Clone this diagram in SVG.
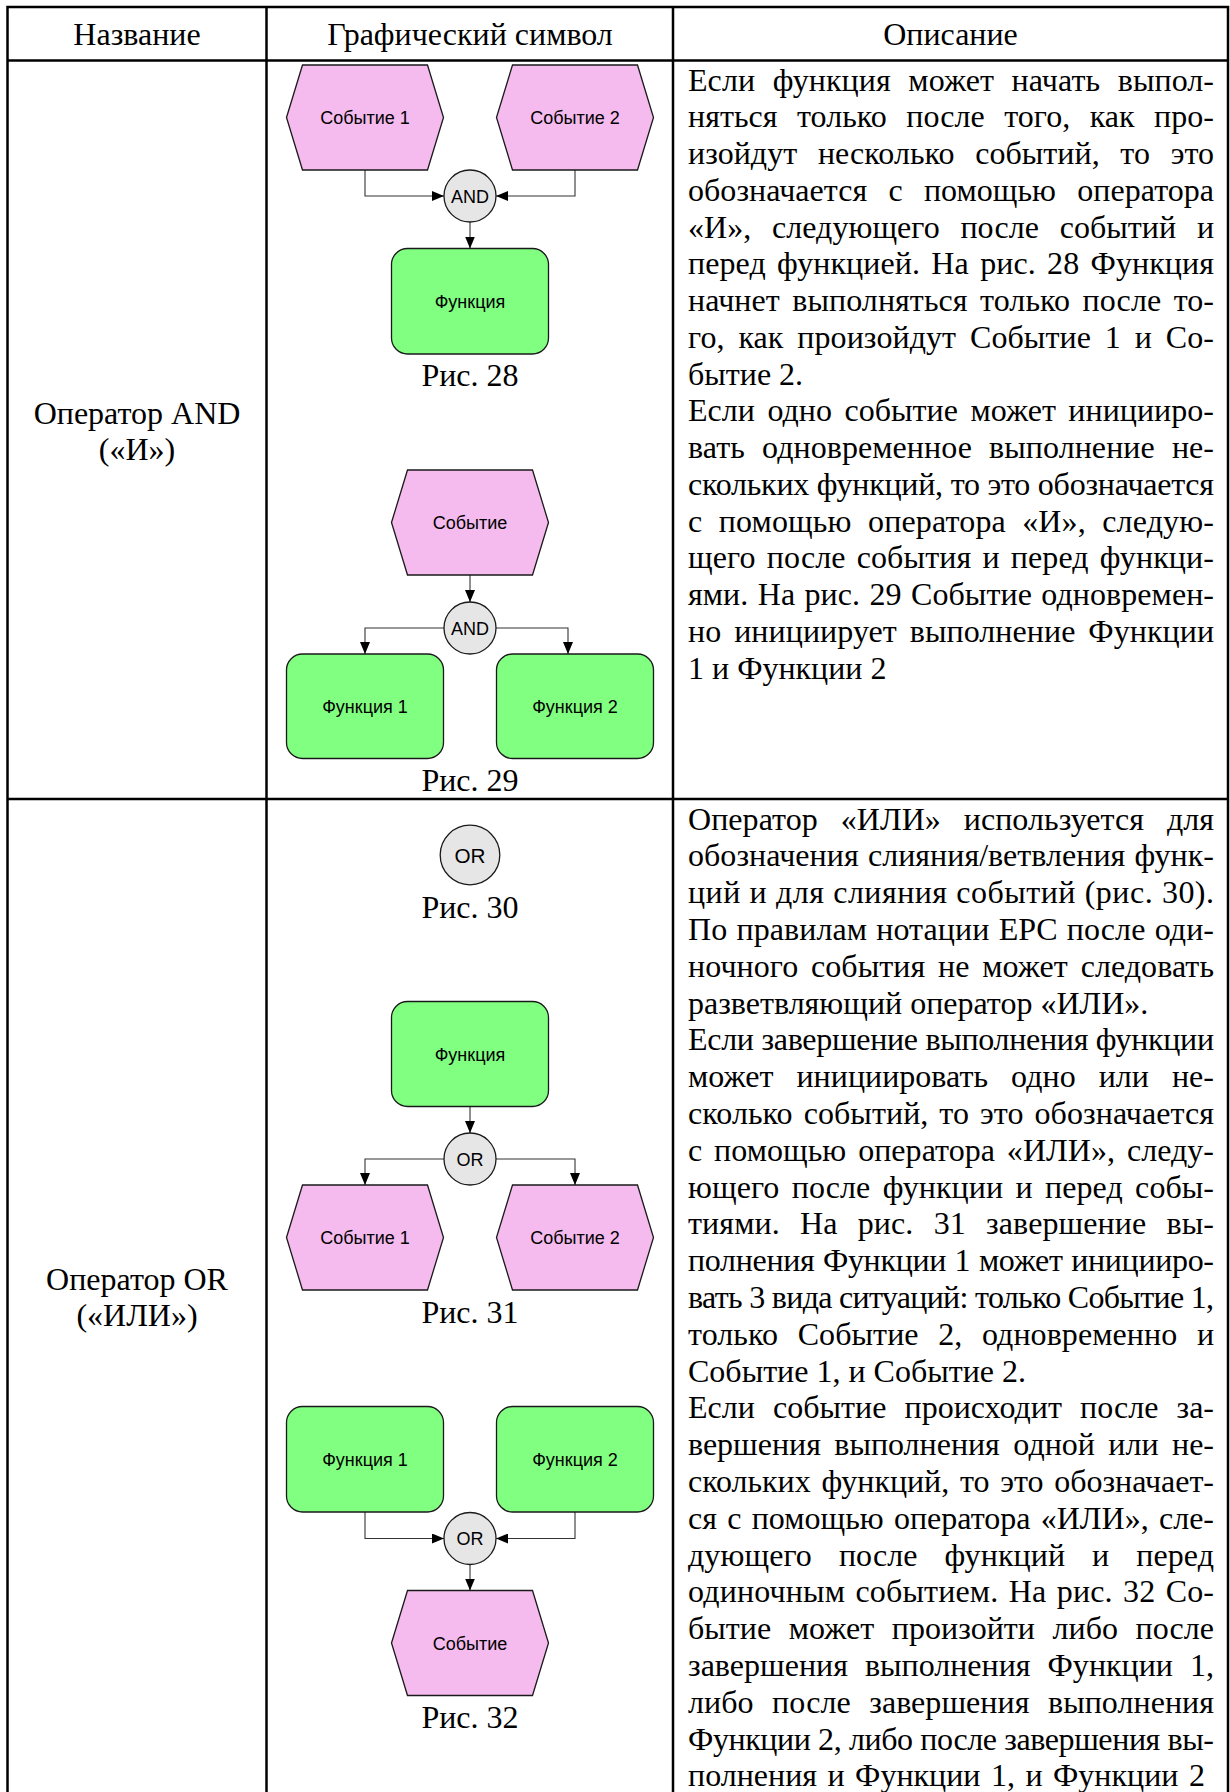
<svg xmlns="http://www.w3.org/2000/svg" width="1230" height="1792" viewBox="0 0 1230 1792">
  <style>
    .grid { stroke: #000; stroke-width: 2.5; fill: none; }
    .hd { font-family: "Liberation Serif", "Times New Roman", serif; font-size: 32px; fill: #000; text-anchor: middle; }
    .d { font-family: "Liberation Serif", "Times New Roman", serif; font-size: 32px; fill: #000; }
    .cap { font-family: "Liberation Serif", "Times New Roman", serif; font-size: 32px; fill: #000; text-anchor: middle; }
    .ev { fill: #F5BAEE; stroke: #1a1a1a; stroke-width: 1.3; }
    .fn { fill: #80FF80; stroke: #1a1a1a; stroke-width: 1.3; }
    .op { fill: #E6E6E6; stroke: #1a1a1a; stroke-width: 1.3; }
    .lbl { font-family: "Liberation Sans", Arial, sans-serif; font-size: 18px; fill: #000; text-anchor: middle; }
    .conn { fill: none; stroke: #333; stroke-width: 1.1; marker-end: url(#arr); }
  </style>
  <defs>
    <marker id="arr" markerWidth="12" markerHeight="10" refX="12" refY="5" orient="auto" markerUnits="userSpaceOnUse">
      <path d="M0,0 L12,5 L0,10 z" fill="#000"/>
    </marker>
  </defs>

  <rect width="1230" height="1792" fill="#fff"/>

  <!-- table grid -->
  <g id="table">
    <path class="grid" d="M7.5,1792 V7 H1228 V1792"/>
    <path class="grid" d="M7.5,60.5 H1228"/>
    <path class="grid" d="M7.5,799 H1228"/>
    <path class="grid" d="M266.5,7 V1792"/>
    <path class="grid" d="M673,7 V1792"/>
  </g>

  <!-- header row -->
  <g id="header">
    <text class="hd" x="137" y="45">Название</text>
    <text class="hd" x="470" y="45">Графический символ</text>
    <text class="hd" x="950.5" y="45">Описание</text>
  </g>

  <!-- name column -->
  <g id="name-and">
    <text class="hd" x="137" y="424">Оператор AND</text>
    <text class="hd" x="137" y="460">(«И»)</text>
  </g>
  <g id="name-or">
    <text class="hd" x="137" y="1290">Оператор OR</text>
    <text class="hd" x="137" y="1326">(«ИЛИ»)</text>
  </g>

  <!-- connectors -->
  <g id="connectors">
    <!-- fig. 28 -->
    <path class="conn" d="M365,170 V196 H444"/>
    <path class="conn" d="M575,170 V196 H496"/>
    <path class="conn" d="M470,222 V248.5"/>
    <!-- fig. 29 -->
    <path class="conn" d="M470,575 V602"/>
    <path class="conn" d="M444,628 H365 V654"/>
    <path class="conn" d="M496,628 H568 V654"/>
    <!-- fig. 31 -->
    <path class="conn" d="M470,1106.5 V1133"/>
    <path class="conn" d="M444,1159 H365 V1185"/>
    <path class="conn" d="M496,1159 H575 V1185"/>
    <!-- fig. 32 -->
    <path class="conn" d="M365,1512 V1538.5 H444"/>
    <path class="conn" d="M575,1512 V1538.5 H496"/>
    <path class="conn" d="M470,1564.5 V1590.5"/>
  </g>

  <!-- fig. 28 -->
  <g id="f28-event1">
    <path class="ev" d="M286.5,117.5 L302.5,65 H427.5 L443.5,117.5 L427.5,170 H302.5 Z"/>
    <text class="lbl" x="365" y="124">Событие 1</text>
  </g>
  <g id="f28-event2">
    <path class="ev" d="M496.5,117.5 L512.5,65 H637.5 L653.5,117.5 L637.5,170 H512.5 Z"/>
    <text class="lbl" x="575" y="124">Событие 2</text>
  </g>
  <g id="f28-and">
    <circle class="op" cx="470" cy="196" r="26"/>
    <text class="lbl" x="470" y="202.5">AND</text>
  </g>
  <g id="f28-function">
    <rect class="fn" x="391.5" y="248.5" width="157" height="105.5" rx="16"/>
    <text class="lbl" x="470" y="307.5">Функция</text>
  </g>
  <text class="cap" x="470" y="386">Рис. 28</text>

  <!-- fig. 29 -->
  <g id="f29-event">
    <path class="ev" d="M391.5,522.5 L407.5,470 H532.5 L548.5,522.5 L532.5,575 H407.5 Z"/>
    <text class="lbl" x="470" y="529">Событие</text>
  </g>
  <g id="f29-and">
    <circle class="op" cx="470" cy="628" r="26"/>
    <text class="lbl" x="470" y="634.5">AND</text>
  </g>
  <g id="f29-function1">
    <rect class="fn" x="286.5" y="654" width="157" height="104.5" rx="16"/>
    <text class="lbl" x="365" y="712.5">Функция 1</text>
  </g>
  <g id="f29-function2">
    <rect class="fn" x="496.5" y="654" width="157" height="104.5" rx="16"/>
    <text class="lbl" x="575" y="712.5">Функция 2</text>
  </g>
  <text class="cap" x="470" y="791">Рис. 29</text>

  <!-- fig. 30 -->
  <g id="f30-or">
    <circle class="op" cx="470" cy="855" r="29.8"/>
    <text class="lbl" x="470" y="862.5" style="font-size:20.7px">OR</text>
  </g>
  <text class="cap" x="470" y="918">Рис. 30</text>

  <!-- fig. 31 -->
  <g id="f31-function">
    <rect class="fn" x="391.5" y="1001.5" width="157" height="105" rx="16"/>
    <text class="lbl" x="470" y="1060.5">Функция</text>
  </g>
  <g id="f31-or">
    <circle class="op" cx="470" cy="1159" r="26"/>
    <text class="lbl" x="470" y="1165.5">OR</text>
  </g>
  <g id="f31-event1">
    <path class="ev" d="M286.5,1237.5 L302.5,1185 H427.5 L443.5,1237.5 L427.5,1290 H302.5 Z"/>
    <text class="lbl" x="365" y="1244">Событие 1</text>
  </g>
  <g id="f31-event2">
    <path class="ev" d="M496.5,1237.5 L512.5,1185 H637.5 L653.5,1237.5 L637.5,1290 H512.5 Z"/>
    <text class="lbl" x="575" y="1244">Событие 2</text>
  </g>
  <text class="cap" x="470" y="1323">Рис. 31</text>

  <!-- fig. 32 -->
  <g id="f32-function1">
    <rect class="fn" x="286.5" y="1406.5" width="157" height="105.5" rx="16"/>
    <text class="lbl" x="365" y="1465.5">Функция 1</text>
  </g>
  <g id="f32-function2">
    <rect class="fn" x="496.5" y="1406.5" width="157" height="105.5" rx="16"/>
    <text class="lbl" x="575" y="1465.5">Функция 2</text>
  </g>
  <g id="f32-or">
    <circle class="op" cx="470" cy="1538.5" r="26"/>
    <text class="lbl" x="470" y="1545">OR</text>
  </g>
  <g id="f32-event">
    <path class="ev" d="M391.5,1643 L407.5,1590.5 H532.5 L548.5,1643 L532.5,1695.5 H407.5 Z"/>
    <text class="lbl" x="470" y="1649.5">Событие</text>
  </g>
  <text class="cap" x="470" y="1728">Рис. 32</text>

  <!-- description, AND row (justified lines: word gaps widened, then fitted to the column) -->
  <g id="desc-and">
    <text class="d" x="688" y="90.5" style="word-spacing:9.5px" textLength="526" lengthAdjust="spacing">Если функция может начать выпол-</text>
    <text class="d" x="688" y="127.25" style="word-spacing:11.4px" textLength="526" lengthAdjust="spacing">няться только после того, как про-</text>
    <text class="d" x="688" y="164" style="word-spacing:12.6px" textLength="526" lengthAdjust="spacing">изойдут несколько событий, то это</text>
    <text class="d" x="688" y="200.75" style="word-spacing:13.2px" textLength="526" lengthAdjust="spacing">обозначается с помощью оператора</text>
    <text class="d" x="688" y="237.5" style="word-spacing:12.6px" textLength="526" lengthAdjust="spacing">«И», следующего после событий и</text>
    <text class="d" x="688" y="274.25" style="word-spacing:3.2px" textLength="526" lengthAdjust="spacing">перед функцией. На рис. 28 Функция</text>
    <text class="d" x="688" y="311" style="word-spacing:4.4px" textLength="526" lengthAdjust="spacing">начнет выполняться только после то-</text>
    <text class="d" x="688" y="347.75" style="word-spacing:5.8px" textLength="526" lengthAdjust="spacing">го, как произойдут Событие 1 и Со-</text>
    <text class="d" x="688" y="384.5">бытие 2.</text>
    <text class="d" x="688" y="421.25" style="word-spacing:4.4px" textLength="526" lengthAdjust="spacing">Если одно событие может иницииро-</text>
    <text class="d" x="688" y="458" style="word-spacing:9px" textLength="526" lengthAdjust="spacing">вать одновременное выполнение не-</text>
    <text class="d" x="688" y="494.75" textLength="526" lengthAdjust="spacing">скольких функций, то это обозначается</text>
    <text class="d" x="688" y="531.5" style="word-spacing:8.1px" textLength="526" lengthAdjust="spacing">с помощью оператора «И», следую-</text>
    <text class="d" x="688" y="568.25" style="word-spacing:2.9px" textLength="526" lengthAdjust="spacing">щего после события и перед функци-</text>
    <text class="d" x="688" y="605" style="word-spacing:1.3px" textLength="526" lengthAdjust="spacing">ями. На рис. 29 Событие одновремен-</text>
    <text class="d" x="688" y="641.75" style="word-spacing:4.8px" textLength="526" lengthAdjust="spacing">но инициирует выполнение Функции</text>
    <text class="d" x="688" y="678.5">1 и Функции 2</text>
  </g>

  <!-- description, OR row -->
  <g id="desc-or">
    <text class="d" x="688" y="829.5" style="word-spacing:14.8px" textLength="526" lengthAdjust="spacing">Оператор «ИЛИ» используется для</text>
    <text class="d" x="688" y="866.3" style="word-spacing:1.2px" textLength="526" lengthAdjust="spacing">обозначения слияния/ветвления функ-</text>
    <text class="d" x="688" y="903.1" style="word-spacing:0.3px" textLength="526" lengthAdjust="spacing">ций и для слияния событий (рис. 30).</text>
    <text class="d" x="688" y="939.9" style="word-spacing:1.1px" textLength="526" lengthAdjust="spacing">По правилам нотации EPC после оди-</text>
    <text class="d" x="688" y="976.7" style="word-spacing:4.7px" textLength="526" lengthAdjust="spacing">ночного события не может следовать</text>
    <text class="d" x="688" y="1013.5">разветвляющий оператор «ИЛИ».</text>
    <text class="d" x="688" y="1050.3" textLength="526" lengthAdjust="spacing">Если завершение выполнения функции</text>
    <text class="d" x="688" y="1087.1" style="word-spacing:15px" textLength="526" lengthAdjust="spacing">может инициировать одно или не-</text>
    <text class="d" x="688" y="1123.9" style="word-spacing:2.9px" textLength="526" lengthAdjust="spacing">сколько событий, то это обозначается</text>
    <text class="d" x="688" y="1160.7" style="word-spacing:3.8px" textLength="526" lengthAdjust="spacing">с помощью оператора «ИЛИ», следу-</text>
    <text class="d" x="688" y="1197.5" style="word-spacing:4.3px" textLength="526" lengthAdjust="spacing">ющего после функции и перед собы-</text>
    <text class="d" x="688" y="1234.3" style="word-spacing:12.1px" textLength="526" lengthAdjust="spacing">тиями. На рис. 31 завершение вы-</text>
    <text class="d" x="688" y="1271.1" style="word-spacing:0.9px" textLength="526" lengthAdjust="spacing">полнения Функции 1 может иницииро-</text>
    <text class="d" x="688" y="1307.9" textLength="526" lengthAdjust="spacing">вать 3 вида ситуаций: только Событие 1,</text>
    <text class="d" x="688" y="1344.7" style="word-spacing:11.5px" textLength="526" lengthAdjust="spacing">только Событие 2, одновременно и</text>
    <text class="d" x="688" y="1381.5">Событие 1, и Событие 2.</text>
    <text class="d" x="688" y="1418.3" style="word-spacing:10.1px" textLength="526" lengthAdjust="spacing">Если событие происходит после за-</text>
    <text class="d" x="688" y="1455.1" style="word-spacing:5.5px" textLength="526" lengthAdjust="spacing">вершения выполнения одной или не-</text>
    <text class="d" x="688" y="1491.9" style="word-spacing:2.9px" textLength="526" lengthAdjust="spacing">скольких функций, то это обозначает-</text>
    <text class="d" x="688" y="1528.7" style="word-spacing:2.3px" textLength="526" lengthAdjust="spacing">ся с помощью оператора «ИЛИ», сле-</text>
    <text class="d" x="688" y="1565.5" style="word-spacing:18.9px" textLength="526" lengthAdjust="spacing">дующего после функций и перед</text>
    <text class="d" x="688" y="1602.3" style="word-spacing:2.2px" textLength="526" lengthAdjust="spacing">одиночным событием. На рис. 32 Со-</text>
    <text class="d" x="688" y="1639.1" style="word-spacing:9.5px" textLength="526" lengthAdjust="spacing">бытие может произойти либо после</text>
    <text class="d" x="688" y="1675.9" style="word-spacing:9px" textLength="526" lengthAdjust="spacing">завершения выполнения Функции 1,</text>
    <text class="d" x="688" y="1712.7" style="word-spacing:10.5px" textLength="526" lengthAdjust="spacing">либо после завершения выполнения</text>
    <text class="d" x="688" y="1749.5" textLength="526" lengthAdjust="spacing">Функции 2, либо после завершения вы-</text>
    <text class="d" x="688" y="1786.3" style="word-spacing:2.5px">полнения и Функции 1, и Функции 2</text>
  </g>
</svg>
